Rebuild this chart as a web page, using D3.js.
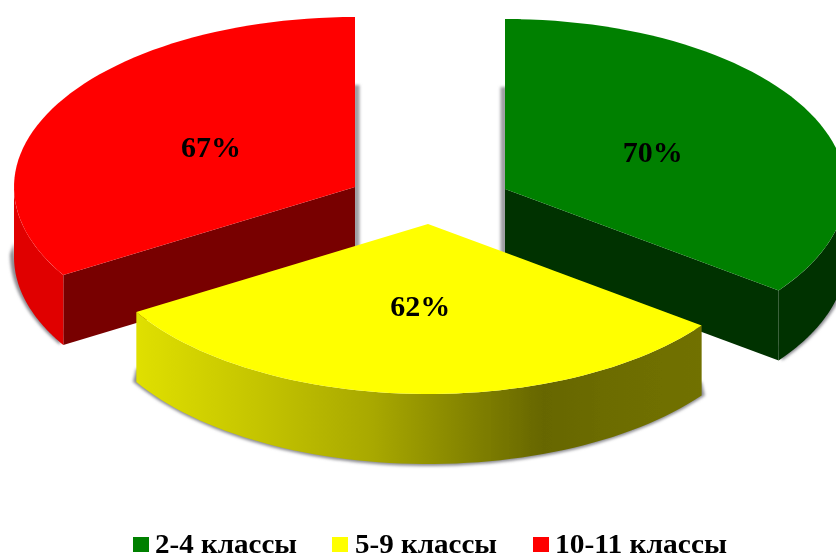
<!DOCTYPE html>
<html><head><meta charset="utf-8">
<script src="https://cdn.jsdelivr.net/npm/d3@7/dist/d3.min.js"></script>
<style>html,body{margin:0;padding:0;background:#fff;overflow:hidden}svg{display:block}
text{font-family:"Liberation Serif",serif;font-weight:bold;fill:#000}</style>
</head><body><svg id="c" width="836" height="559"></svg>
<script>
const categories = ["2-4 классы", "5-9 классы", "10-11 классы"];
const values = [70, 62, 67];
const colors = ["#008000", "#ffff00", "#ff0000"];
const innerWall = ["#003000", null, "#780000"];
const outerWall = ["#003000", null, "#e00000"];
const apexX = [505, 428, 355];
const apexY = [189, 224, 187];
const legendSwatchX = [133, 332, 533];
const legendTextX = [155, 355, 555];
const legendTextLen = [142, 142, 172];

const W = 836, H = 559, rx = 341, ry = 170, depth = 70;
const svg = d3.select("#c");
const defs = svg.append("defs");
const blur = (id,s)=>defs.append("filter").attr("id",id).attr("x","-20%").attr("y","-20%").attr("width","140%").attr("height","140%")
  .append("feGaussianBlur").attr("stdDeviation",s);
blur("soft",1.6); blur("aa",0.45);
const grad = defs.append("linearGradient").attr("id","yw").attr("gradientUnits","userSpaceOnUse")
  .attr("x1",135).attr("x2",703).attr("y1",0).attr("y2",0);
[[0,"#e0e000"],[0.22,"#c4c400"],[0.42,"#a8a800"],[0.72,"#666600"],[0.82,"#6c6c00"],[1,"#717100"]]
  .forEach(([o,c])=>grad.append("stop").attr("offset",o).attr("stop-color",c));

const arcs = d3.pie().sort(null).value(d=>d)(values);
const line = d3.line();
const pt = (i,t,f=1,dy=0)=>[apexX[i]+rx*f*Math.sin(t), apexY[i]-ry*f*Math.cos(t)+dy];
const rim = (i,a0,a1,dy=0)=>d3.range(0,61).map(k=>pt(i,a0+(a1-a0)*k/60,1,dy));
const closed = p=>line(p)+"Z";
const topFace = i=>closed([[apexX[i],apexY[i]],...rim(i,arcs[i].startAngle,arcs[i].endAngle)]);
const band = (i,a0,a1)=>closed([...rim(i,a0,a1),...rim(i,a1,a0,depth)]);
const HALF = Math.PI/2, FULL = Math.PI*1.5;

// visible outer-wall angle range per slice
const wallRange = [[HALF,arcs[0].endAngle],[arcs[1].startAngle,arcs[1].endAngle],[arcs[2].startAngle,FULL]];

// soft shadows behind the slices
const shadow = svg.append("g").attr("filter","url(#soft)").attr("fill","#8c8c92");
[2,0,1].forEach(i=>{
  const [a0,a1]=wallRange[i];
  const grow = d3.range(0,61).map(k=>{
    const t=a0+(a1-a0)*k/60;
    return [apexX[i]+(rx+4)*Math.sin(t), apexY[i]+depth-3-(ry+5)*Math.cos(t)];
  });
  shadow.append("path").attr("d",closed([...grow,...rim(i,a1,a0,depth-14)]));
});
// vertical shadows beside the two back slices
[[2,1],[0,-1]].forEach(([i,dir])=>{
  shadow.append("rect")
    .attr("x",dir>0?apexX[i]-2:apexX[i]-4.5)
    .attr("y",apexY[i]-102).attr("width",6.5).attr("height",ry)
    .attr("opacity",0.85);
});

const body = svg.append("g").attr("filter","url(#aa)");
[2,0,1].forEach(i=>{
  const a=arcs[i], g=body.append("g");
  if(i!==1){
    const e=i===0?a.endAngle:a.startAngle, p=pt(i,e);
    g.append("path").attr("d",closed([[apexX[i],apexY[i]],p,[p[0],p[1]+depth],[apexX[i],apexY[i]+depth]])).attr("fill",innerWall[i]);
  }
  g.append("path").attr("d",band(i,wallRange[i][0],wallRange[i][1])).attr("fill",i===1?"url(#yw)":outerWall[i]);
  g.append("path").attr("d",topFace(i)).attr("fill",colors[i]);
});

// percent labels
const labels = svg.append("g").attr("filter","url(#aa)");
[0,1,2].forEach(i=>{
  const a=arcs[i], m=(a.startAngle+a.endAngle)/2, p=pt(i,m,0.485);
  labels.append("text").attr("x",p[0]).attr("y",p[1]+10).attr("text-anchor","middle")
    .attr("font-size",30).text(values[i]+"%");
});

// legend: baseline kept high enough that the text box stays inside the page
const legend = svg.append("g").attr("filter","url(#aa)");
categories.forEach((c,i)=>{
  legend.append("rect").attr("x",legendSwatchX[i]).attr("y",537).attr("width",16).attr("height",15).attr("fill",colors[i]);
  legend.append("text").attr("x",legendTextX[i]).attr("y",553).attr("font-size",27)
    .attr("textLength",legendTextLen[i]).attr("lengthAdjust","spacingAndGlyphs").text(c);
});
</script></body></html>
